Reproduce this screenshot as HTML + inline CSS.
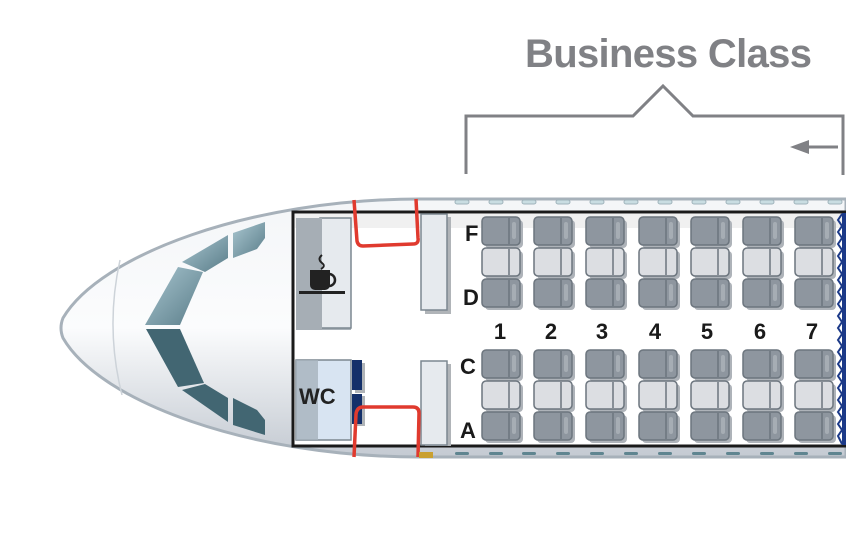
<!DOCTYPE html>
<html><head><meta charset="utf-8"><style>html,body{margin:0;padding:0;background:#fff;width:846px;height:552px;overflow:hidden}</style></head>
<body>
<svg width="846" height="552" viewBox="0 0 846 552" xmlns="http://www.w3.org/2000/svg" font-family="Liberation Sans, sans-serif">
<defs>
<linearGradient id="fus" x1="0" y1="0" x2="0" y2="1">
<stop offset="0" stop-color="#f4f6f8"/><stop offset="0.5" stop-color="#fbfcfd"/><stop offset="1" stop-color="#c4cad2"/>
</linearGradient>
<linearGradient id="wt" x1="0" y1="0" x2="1" y2="1"><stop offset="0" stop-color="#a9c6d0"/><stop offset="1" stop-color="#5a7d89"/></linearGradient>
<g id="seat">
<rect x="3" y="3" width="38" height="28" rx="4" fill="#aeb3b9"/>
<rect x="0" y="0" width="38" height="28" rx="4" fill="#8e969f" stroke="#6c757e" stroke-width="1.5"/>
<line x1="27" y1="1" x2="27" y2="27" stroke="#6c757e" stroke-width="1.5"/>
<rect x="30" y="5" width="4" height="17" rx="2" fill="#a6adb4"/>
</g>
<g id="mseat">
<rect x="3" y="3" width="38" height="28" rx="4" fill="#aeb3b9"/>
<rect x="0" y="0" width="38" height="28" rx="4" fill="#dcdee2" stroke="#6c757e" stroke-width="1.5"/>
<line x1="27" y1="1" x2="27" y2="27" stroke="#6c757e" stroke-width="1.5"/>
</g>
<g id="col"><use href="#seat" y="217"/><use href="#mseat" y="248"/><use href="#seat" y="279"/><use href="#seat" y="350"/><use href="#mseat" y="381"/><use href="#seat" y="412"/></g>
</defs>
<text x="525" y="67" font-size="40" font-weight="bold" fill="#808185" textLength="287">Business Class</text>
<polyline points="466,174 466,116 633,116 663,86 693,116 843,116 843,175" fill="none" stroke="#808185" stroke-width="3"/>
<line x1="803" y1="147" x2="838" y2="147" stroke="#808185" stroke-width="3"/>
<polygon points="790,147 809,140 809,154" fill="#808185"/>
<path d="M846,199 L420,199 C250,199 100,255 63,318 Q59,328 63,338 C100,402 250,457 420,457 L846,457 Z" fill="url(#fus)" stroke="#a7b1ba" stroke-width="3"/>
<path d="M120,260 Q105,328 122,395" fill="none" stroke="#cdd3d9" stroke-width="1.5"/>
<g fill="#c9dde2" stroke="#9fb3bb" stroke-width="1">
<rect x="455" y="200" width="14" height="4" rx="2"/><rect x="489" y="200" width="14" height="4" rx="2"/><rect x="522" y="200" width="14" height="4" rx="2"/><rect x="556" y="200" width="14" height="4" rx="2"/><rect x="590" y="200" width="14" height="4" rx="2"/><rect x="624" y="200" width="14" height="4" rx="2"/><rect x="658" y="200" width="14" height="4" rx="2"/><rect x="692" y="200" width="14" height="4" rx="2"/><rect x="726" y="200" width="14" height="4" rx="2"/><rect x="760" y="200" width="14" height="4" rx="2"/><rect x="794" y="200" width="14" height="4" rx="2"/><rect x="828" y="200" width="14" height="4" rx="2"/>
</g>
<g fill="#5f8590">
<rect x="455" y="452" width="14" height="3" rx="1.5"/><rect x="489" y="452" width="14" height="3" rx="1.5"/><rect x="522" y="452" width="14" height="3" rx="1.5"/><rect x="556" y="452" width="14" height="3" rx="1.5"/><rect x="590" y="452" width="14" height="3" rx="1.5"/><rect x="624" y="452" width="14" height="3" rx="1.5"/><rect x="658" y="452" width="14" height="3" rx="1.5"/><rect x="692" y="452" width="14" height="3" rx="1.5"/><rect x="726" y="452" width="14" height="3" rx="1.5"/><rect x="760" y="452" width="14" height="3" rx="1.5"/><rect x="794" y="452" width="14" height="3" rx="1.5"/><rect x="828" y="452" width="14" height="3" rx="1.5"/>
</g>
<polygon points="233,233 265,222 265,238 257,249 233,258" fill="url(#wt)"/>
<polygon points="182,262 228,235 228,258 205,272" fill="url(#wt)"/>
<polygon points="178,267 203,272 180,325 145,325" fill="url(#wt)"/>
<polygon points="146,329 180,329 204,383 178,387" fill="#426672"/>
<polygon points="182,390 205,384 228,398 228,422" fill="#426672"/>
<polygon points="233,398 257,410 265,420 265,435 233,425" fill="#426672"/>
<rect x="293" y="212" width="560" height="234" fill="#fff" stroke="#1a1a1a" stroke-width="3"/>
<rect x="295" y="214" width="549" height="14" fill="#000" opacity="0.06"/>
<rect x="296" y="218" width="55" height="112" fill="#a9b1b8"/>
<rect x="320" y="218" width="31" height="110" fill="#e6eaee" stroke="#7c8790" stroke-width="1.5"/>
<rect x="296" y="218" width="26" height="112" fill="#a6aeb5"/>
<path d="M310,270 h20 v15 a5,5 0 0 1 -5,5 h-10 a5,5 0 0 1 -5,-5 z" fill="#222"/>
<path d="M329,274 a6,6 0 0 1 0,12" fill="none" stroke="#222" stroke-width="2.5"/>
<rect x="299" y="291" width="46" height="3" fill="#222"/>
<path d="M322,255 q-5,4 0,8 q4,3 -1,6" fill="none" stroke="#222" stroke-width="2"/>
<rect x="296" y="360" width="55" height="80" fill="#d8e4f2" stroke="#7c8790" stroke-width="1.5"/>
<rect x="296" y="360" width="22" height="80" fill="#a6b2bc" opacity="0.8"/>
<text x="299" y="404" font-size="22" font-weight="bold" fill="#222">WC</text>
<rect x="355" y="363" width="10" height="30" fill="#b0b4b8"/><rect x="355" y="396" width="10" height="30" fill="#b0b4b8"/>
<rect x="352" y="360" width="10" height="30" fill="#14306a"/><rect x="352" y="394" width="10" height="30" fill="#14306a"/>
<rect x="425" y="217" width="26" height="97" fill="#b0b4b8"/>
<rect x="421" y="214" width="26" height="96" fill="#e6eaee" stroke="#7c8790" stroke-width="1.5"/>
<rect x="425" y="364" width="26" height="82" fill="#b0b4b8"/>
<rect x="421" y="361" width="26" height="84" fill="#e6eaee" stroke="#7c8790" stroke-width="1.5"/>
<path d="M354,200 L357,241 Q358,246 363,246 L413,244 Q419,244 418,238 L416,199" fill="none" stroke="#e03a2e" stroke-width="3.5"/>
<path d="M354,457 L356,414 Q357,407 363,407 L413,407 Q419,407 419,413 L418,457" fill="none" stroke="#e03a2e" stroke-width="3.5"/>
<rect x="419" y="452" width="14" height="6" fill="#c9a030"/>
<polyline points="842,214 838,220 842,226 838,232 842,238 838,244 842,250 838,256 842,262 838,268 842,274 838,280 842,286 838,292 842,298 838,304 842,310 838,316 842,322 838,328 842,334 838,340 842,346 838,352 842,358 838,364 842,370 838,376 842,382 838,388 842,394 838,400 842,406 838,412 842,418 838,424 842,430 838,436 842,444" fill="none" stroke="#1c3a88" stroke-width="2"/>
<rect x="842" y="213" width="4" height="232" fill="#1c3a88"/>
<use href="#col" x="482"/><use href="#col" x="534"/><use href="#col" x="586"/><use href="#col" x="639"/><use href="#col" x="691"/><use href="#col" x="743"/><use href="#col" x="795"/>
<g font-size="22" font-weight="bold" fill="#1a1a1a">
<text x="465" y="241">F</text><text x="463" y="305">D</text><text x="460" y="374">C</text><text x="460" y="438">A</text>
<g text-anchor="middle"><text x="500" y="339">1</text><text x="551" y="339">2</text><text x="602" y="339">3</text><text x="655" y="339">4</text><text x="707" y="339">5</text><text x="760" y="339">6</text><text x="812" y="339">7</text></g>
</g>
</svg>
</body></html>
